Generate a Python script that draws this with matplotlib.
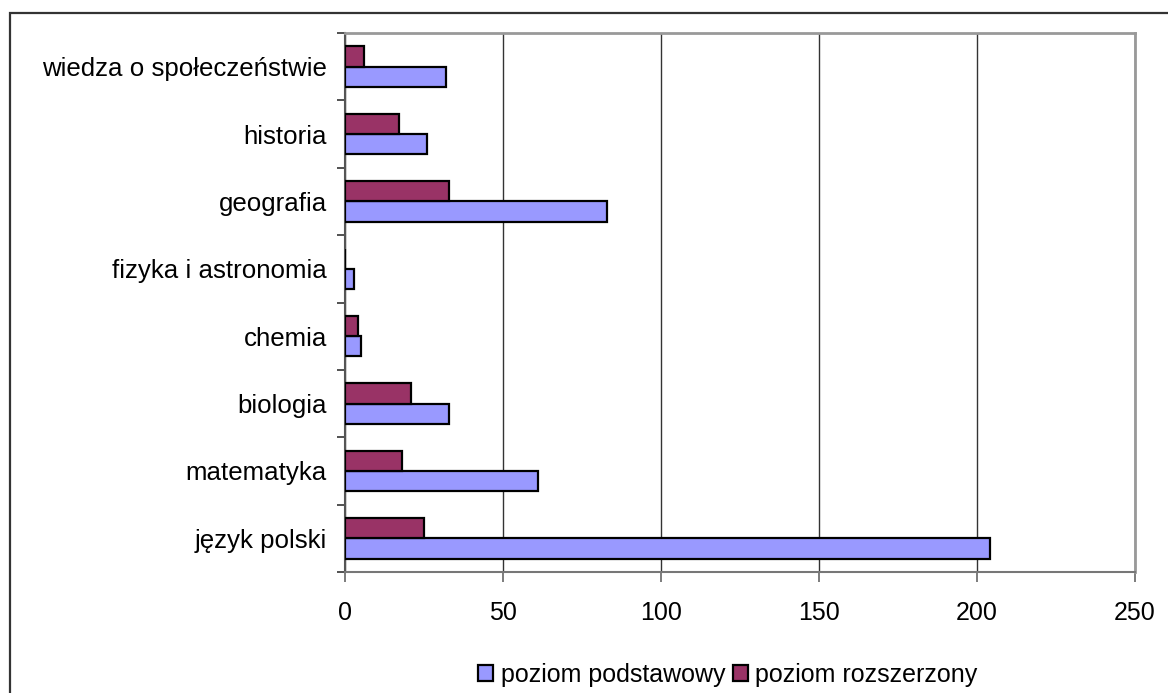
import numpy as np
import matplotlib.pyplot as plt
from matplotlib.patches import Rectangle

plt.rcParams['font.family'] = ['Liberation Sans', 'DejaVu Sans']

subjects = ['język polski', 'matematyka', 'biologia', 'chemia',
            'fizyka i astronomia', 'geografia', 'historia',
            'wiedza o społeczeństwie']
podstawowy = [204, 61, 33, 5, 3, 83, 26, 32]
rozszerzony = [25, 18, 21, 4, 0, 33, 17, 6]
series_names = ['poziom podstawowy', 'poziom rozszerzony']
xticks = [0, 50, 100, 150, 200, 250]

W, H = 1168, 693
fig = plt.figure(figsize=(W / 100, H / 100), dpi=100)
ax = fig.add_axes([345 / W, 1 - 572 / H, 790 / W, 539 / H])

y = np.arange(len(subjects))
h = 0.3
ax.barh(y - h / 2, podstawowy, height=h, color='#9999FF', edgecolor='black',
        linewidth=1.6, label=series_names[0], zorder=3)
ax.barh(y + h / 2, rozszerzony, height=h, color='#993366', edgecolor='black',
        linewidth=1.6, label=series_names[1], zorder=3)

ax.set_xlim(0, 250)
ax.set_ylim(-0.5, len(subjects) - 0.5)
ax.set_xticks(xticks)
ax.set_xticklabels([str(v) for v in xticks], fontsize=18)
ax.set_yticks(y)
ax.set_yticklabels(subjects, fontsize=18.6)
ax.tick_params(axis='y', length=0, pad=13)
ax.set_yticks(np.arange(-0.5, len(subjects)), minor=True)
ax.tick_params(axis='y', which='minor', length=6, width=1.2, color='#333333')
ax.tick_params(axis='x', length=7, width=1.2, color='#666666', pad=14)

ax.grid(axis='x', color='#333333', linewidth=1)
ax.set_axisbelow(True)
for side in ['top', 'right']:
    ax.spines[side].set_color('#999999')
    ax.spines[side].set_linewidth(2)
ax.spines['left'].set_color('#555555')
ax.spines['left'].set_linewidth(1.5)
ax.spines['bottom'].set_color('#777777')
ax.spines['bottom'].set_linewidth(1.5)

leg = fig.legend(loc='center', bbox_to_anchor=(728 / W, 1 - 675 / H), ncol=2,
                 frameon=False, fontsize=18, handlelength=0.6, handleheight=0.6,
                 handletextpad=0.3, columnspacing=0.3, borderpad=0)
for p in leg.get_patches():
    p.set_linewidth(1.6)

fig.patches.append(Rectangle((10 / W, -0.05), 1.1, 1.05 - 13 / H,
                             transform=fig.transFigure, fill=False,
                             edgecolor='#333333', linewidth=1.6))

fig.savefig('out.png', dpi=100)
